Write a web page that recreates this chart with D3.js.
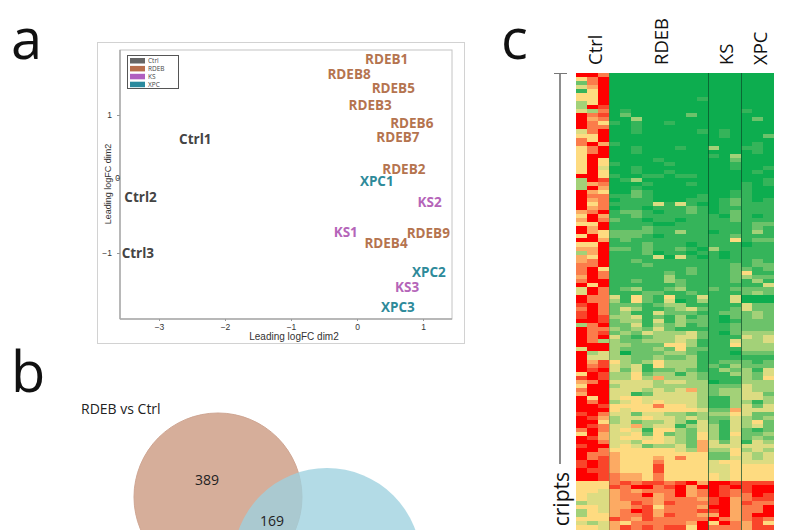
<!DOCTYPE html>
<html><head><meta charset="utf-8">
<script src="https://cdn.jsdelivr.net/npm/d3@7"></script>
<style>html,body{margin:0;padding:0;background:#fff}svg{display:block;font-family:"Open Sans",sans-serif}</style>
</head><body><svg id="c" width="800" height="530"></svg>
<script>
// --- MDS plot data (logFC dim1, dim2) ---
const sampleNames=["RDEB1","RDEB8","RDEB5","RDEB3","RDEB6","RDEB7","RDEB2","XPC1","KS2","KS1","RDEB4","RDEB9","XPC2","KS3","XPC3","Ctrl1","Ctrl2","Ctrl3"];
const sampleGroups=["RDEB","RDEB","RDEB","RDEB","RDEB","RDEB","RDEB","XPC","KS","KS","RDEB","RDEB","XPC","KS","XPC","Ctrl","Ctrl","Ctrl"];
const dim1=[0.45,-0.12,0.55,0.2,0.83,0.62,0.71,0.3,1.1,-0.17,0.44,1.08,1.09,0.76,0.62,-2.45,-3.28,-3.32];
const dim2=[1.89,1.65,1.43,1.16,0.87,0.65,0.14,-0.04,-0.32,-0.72,-0.87,-0.73,-1.25,-1.45,-1.72,0.62,-0.25,-1.0];
const groupNames=["Ctrl","RDEB","KS","XPC"];
const xTickValues=[-3,-2,-1,0,1];
const yTickValues=[-1,0,1];
// --- Venn ---
const vennTitle="RDEB vs Ctrl";
const vennCounts=[389,169];
// --- Heatmap: one digit per sample, 0 = green ... 5 = yellow ... 9 = red ---
const heatColumns=[["Ctrl",3],["RDEB",9],["KS",3],["XPC",3]];
const heatTop=["997000000000000000","579000000000000000","279000000000000000","469000000000000000","159000000000000000","559000000000000000","559000000001000000","359000000000000000","398000000000000000","437010000000000100","978020000020000000","967003000000000020","975101001000000000","977001000000000000","479001000001010000","559000000000010002","759000000000000000","796100000000000010","579001000100300110","579001000000000010","599000000000103000","595000010000002000","595100001000001000","594001000000001001","595001001000000010","995100110110000000","398013000000000001","367000100010000101"];
const heatUpper=["396001000000000100","965002100000001100","977112100001001100","967011100011012101","957111141410012111","967011011121011111","679122101121012111","596112111111102101","697211011011112111","559111100111111122","969111211111111121","965222211311011131","595222101111112111","996121111111115122","559111211101111011","669221211210311111","369111201101101111","659111140410101111","679112111111111121","779111211111112122","795111111121112212","797111112121112511","697111113111112322","799112113211112131","959111111211111114","497123112311212222","497111221121111232","977415215114114000"];
const heatMiddle=["977315214013114000","897222123311111422","797243112342112422","897231142221122232","898334121312102232","998233141322101222","379224132312112222","977323242111112222","978232433342102333","979421233442111434","973322333431114334","999332225531115333","499322232522111333","934302223321110222","944332232231111111","968532353331122212","978434153331213222","989424122321132314","598335233132113324","898335363332111325","679444434433011333","599344433333222433","799444343463233433","699441244443233442","959455444443113443","979345454443113313","998555575543113424","999545555554226444"];
const heatLower=["897442443323335422","986344544343224323","995342334314214352","987446344134314342","797454155324314212","596445252325315223","986455454325314232","997443554326424143","899454233426444444","997555555436335343","977655555555225434","978655565755224434","898655575555455444","898655585555445555","988655585555445555","998766575555545555","998766575555545555","555787887896998888","555879978969989899","554676777967987899","544677967967987798","544677767776896788","344668768777896877","554667857776996779","354679867778896779","355677868776696799","555876877777976787","434657777769597685","554687878859777688"];
const heatRows=[...heatTop,...heatUpper,...heatMiddle,...heatLower];
const heatColors=["#0fad50","#35b45a","#6cc26a","#a3d178","#dcdc82","#fedb80","#fcaa63","#fb7b4b","#f9452a","#fe0000"];
const groupColor={Ctrl:"#444444",RDEB:"#b5744f",KS:"#b565b9",XPC:"#2e8a9a"};
const legendColor={Ctrl:"#666666",RDEB:"#b86f4d",KS:"#b05fc0",XPC:"#2a8a9e"};

const svg=d3.select("#c");
const defs=svg.append("defs");
defs.append("filter").attr("id","soft").attr("x","-1%").attr("y","-1%").attr("width","102%").attr("height","102%")
  .append("feGaussianBlur").attr("stdDeviation",0.7);
const letter=(t,x,y)=>svg.append("text").attr("x",x).attr("y",y).attr("font-size",56).attr("fill","#111").text(t);
letter("a",11,59);letter("b",11,392);letter("c",501,59);

// Panel a
svg.append("rect").attr("x",97.5).attr("y",42.5).attr("width",367).attr("height",301).attr("fill","none").attr("stroke","#d2d2d2");
const xS=d3.scaleLinear().domain([-1,1]).range([291,423]);
const yS=d3.scaleLinear().domain([-1,0,1]).range([253,178,115]);
svg.append("rect").attr("x",120).attr("y",50).attr("width",332).attr("height",269).attr("fill","none").attr("stroke","#c4c4c4").attr("stroke-width",1);
svg.append("line").attr("x1",120).attr("x2",120).attr("y1",50).attr("y2",319).attr("stroke","#aaa").attr("stroke-width",1.5);
svg.append("line").attr("x1",120).attr("x2",452).attr("y1",319).attr("y2",319).attr("stroke","#aaa").attr("stroke-width",1.5);
const xA=svg.append("g").attr("transform","translate(0,319)").call(d3.axisBottom(xS).tickValues(xTickValues).tickSize(2).tickPadding(3).tickFormat(d3.format("d")));
const yA=svg.append("g").attr("transform","translate(120,0)").call(d3.axisLeft(yS).tickValues(yTickValues).tickSize(3).tickPadding(5).tickFormat(d3.format("d")));
[xA,yA].forEach(a=>{a.select(".domain").remove();a.selectAll("line").attr("stroke","#999");a.selectAll("text").attr("font-family","Liberation Sans").attr("font-size",8.5).attr("fill","#333");});
yA.selectAll(".tick").filter(d=>d===0).select("text").attr("x",0);
svg.append("text").attr("x",294).attr("y",340).attr("text-anchor","middle").attr("font-family","Liberation Sans").attr("font-size",10).attr("fill","#333").text("Leading logFC dim2");
svg.append("text").attr("transform","translate(111,184) rotate(-90)").attr("text-anchor","middle").attr("font-family","Liberation Sans").attr("font-size",9).attr("fill","#333").text("Leading logFC dim2");
svg.append("rect").attr("x",127.5).attr("y",55.5).attr("width",51).attr("height",33).attr("fill","#fff").attr("stroke","#555");
groupNames.forEach((g,i)=>{
  const y=58+i*7.9;
  svg.append("rect").attr("x",130).attr("y",y).attr("width",15).attr("height",5.5).attr("fill",legendColor[g]);
  svg.append("text").attr("x",148).attr("y",y+5.2).attr("font-size",6.5).attr("fill","#444").text(g);
});
svg.append("g").selectAll("text").data(sampleNames).join("text")
  .attr("x",(d,i)=>xS(dim1[i])).attr("y",(d,i)=>yS(dim2[i])).attr("dy","0.36em")
  .attr("text-anchor","middle").attr("font-size",13.5).attr("font-weight",700)
  .attr("fill",(d,i)=>groupColor[sampleGroups[i]]).text(d=>d);

// Panel b
svg.append("text").attr("x",81).attr("y",414).attr("font-size",14).attr("fill","#222").text(vennTitle);
svg.append("circle").attr("cx",218).attr("cy",497).attr("r",84).attr("fill","#d6ae9a").attr("stroke","#cfa693");
svg.append("circle").attr("cx",327).attr("cy",562).attr("r",94).attr("fill","#9ed1df").attr("fill-opacity",.78);
svg.selectAll(".vn").data(vennCounts).join("text").attr("class","vn")
  .attr("x",(d,i)=>[207,272][i]).attr("y",(d,i)=>[485,526][i]).attr("text-anchor","middle")
  .attr("font-size",14).attr("fill","#222").text(d=>d);

// Panel c
const nCols=heatRows[0].length;
const cS=d3.scaleBand().domain(d3.range(nCols)).range([576,774]);
const rS=d3.scaleBand().domain(d3.range(heatRows.length)).range([73,529]);
const colour=d3.scaleLinear().domain(d3.range(heatColors.length)).range(heatColors);
const cells=heatRows.flatMap((s,r)=>Array.from(s,(v,c)=>({r,c,v:+v})));
svg.append("g").attr("filter","url(#soft)").attr("shape-rendering","crispEdges").selectAll("rect").data(cells).join("rect")
  .attr("x",d=>cS(d.c)).attr("y",d=>rS(d.r)).attr("width",cS.bandwidth())
  .attr("height",d=>rS.bandwidth()+(d.r===heatRows.length-1?4:0))
  .attr("fill",d=>colour(d.v));
let start=0;
const labelBase={Ctrl:602,RDEB:668,KS:733,XPC:767};
heatColumns.forEach(([g,n],i)=>{
  svg.append("text").attr("transform",`translate(${labelBase[g]},65) rotate(-90)`).attr("font-size",18.5).attr("fill","#111").text(g);
  if(i>0){
    const x=cS(start)+.5;
    svg.append("line").attr("x1",x).attr("x2",x).attr("y1",73).attr("y2",530)
      .attr("stroke",i===1?"#5a6a40":"#0a4a2a").attr("stroke-opacity",i===1?.4:.7).attr("stroke-width",1);
  }
  start+=n;
});
svg.append("line").attr("x1",560).attr("x2",560).attr("y1",73).attr("y2",464).attr("stroke","#8d8d8d").attr("stroke-width",2);
svg.append("line").attr("x1",554).attr("x2",567).attr("y1",73.5).attr("y2",73.5).attr("stroke","#777").attr("stroke-width",1);
svg.append("text").attr("transform","translate(569,472) rotate(-90)").attr("text-anchor","end").attr("font-size",21).attr("fill","#111").text("cripts");
</script></body></html>
